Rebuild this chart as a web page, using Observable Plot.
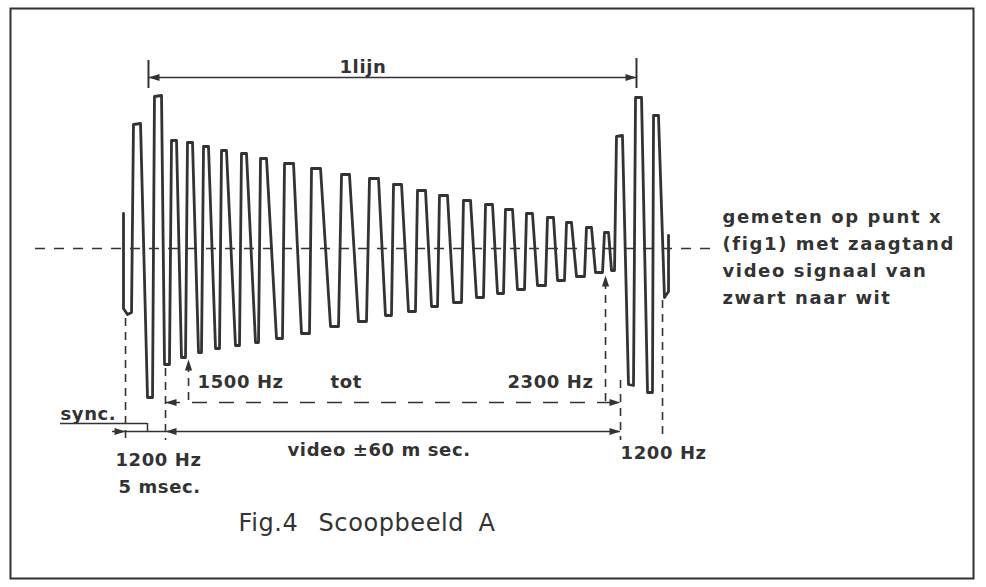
<!DOCTYPE html>
<html><head><meta charset="utf-8">
<script src="https://cdn.jsdelivr.net/npm/d3@7"></script>
<script src="https://cdn.jsdelivr.net/npm/@observablehq/plot@0.6"></script>
<style>
html,body{margin:0;padding:0;background:#fff;}
g[aria-description="label"] text{letter-spacing:0.6px}
g[aria-description="note"] text{letter-spacing:1.6px}
g[aria-description="caption"] text{letter-spacing:0.6px}
</style>
</head><body><div id="chart"></div>
<script>
// Time axis in ms (start of video = 0), amplitude in arbitrary units (0 = centre line)
const syncLeft = [[-5.6,0.35],[-5.6,-0.60],[-5.07,-0.66],[-4.53,-0.64],[-4.27,1.24],[-3.33,1.25],
  [-2.4,-1.49],[-1.73,-1.49],[-1.47,1.52],[-0.53,1.53],[-0.13,-1.16],[0.53,-1.16]];
// each video cycle: [start, end, amplitude] of the flat top / flat bottom
const videoTops = [[0.8,1.47,1.08],[2.93,3.6,1.06],[5.07,5.73,1.02],[7.47,8.13,0.98],[10.13,10.8,0.95],
  [12.67,13.47,0.90],[15.87,17.07,0.85],[19.47,20.67,0.80],[23.47,24.53,0.74],[27.2,28.4,0.70],
  [30.4,31.47,0.64],[33.6,34.67,0.58],[36.53,37.6,0.53],[39.73,40.67,0.48],[42.67,43.6,0.44],
  [45.33,46.27,0.39],[48.13,48.93,0.35],[50.93,51.73,0.31],[53.47,54.13,0.26],[56.13,56.8,0.21],[58.53,59.07,0.16]];
const videoBottoms = [[2.13,2.67,-1.09],[4.4,4.8,-1.04],[6.67,7.2,-1.00],[9.33,9.87,-0.97],[12.0,12.4,-0.94],
  [14.8,15.6,-0.90],[18.13,19.2,-0.85],[22.0,23.07,-0.78],[25.73,26.8,-0.73],[29.33,30.13,-0.67],
  [32.4,33.33,-0.63],[35.47,36.27,-0.58],[38.4,39.47,-0.54],[41.47,42.4,-0.49],[44.27,45.07,-0.45],
  [46.93,47.87,-0.41],[49.6,50.67,-0.37],[52.27,53.2,-0.32],[54.8,55.87,-0.28],[57.33,58.27,-0.24],[59.47,59.87,-0.22]];
const syncRight = [[60.13,1.12],[60.93,1.13],[61.73,-1.36],[62.4,-1.37],[62.67,1.51],[63.47,1.51],
  [64.27,-1.44],[64.93,-1.44],[65.07,1.33],[65.73,1.33],[66.53,-0.49],[67.07,-0.43],[67.07,0.13]];

const centreLine = [{t1:-17.33, t2:73.33, a:0}];
const dashedVerticals = [
  {t:-5.33, a1:-0.70, a2:-1.90},
  {t:0,     a1:-1.20, a2:-1.92},
  {t:3.07,  a1:-1.16, a2:-1.54},
  {t:58.67, a1:-0.33, a2:-1.54},
  {t:60.67, a1:-1.32, a2:-1.92},
  {t:66.27, a1:-0.52, a2:-1.92}
];
const spanLine = [{t1:-2.27, t2:62.8, a:1.71}];           // 1 lijn
const spanTicks = [{t:-2.27, a1:1.88, a2:1.60},{t:62.8, a1:1.90, a2:1.60}];
const freqSweep = [{t1:0, t2:60.67, a:-1.54}];           // 1500 Hz tot 2300 Hz
const timeLine = [{t1:-7.07, t2:60.67, a:-1.83}];        // sync + video
const syncLeader = [{t1:-14, t2:-2.4, a:-1.75}];
const syncLeaderDrop = [{t:-2.4, a1:-1.75, a2:-1.83}];
const arrowsRight = [{t:62.8,a:1.71},{t:60.67,a:-1.54},{t:-5.33,a:-1.83},{t:60.67,a:-1.83}];
const arrowsLeft = [{t:-2.27,a:1.71},{t:0,a:-1.54},{t:0,a:-1.83}];
const arrowsUp = [{t:3.07,a:-1.11},{t:58.67,a:-0.27}];

const labels = [
  {text:"1lijn", t:23.2, a:1.76},
  {text:"1500 Hz", t:4.27, a:-1.39},
  {text:"tot", t:22, a:-1.39},
  {text:"2300 Hz", t:45.6, a:-1.39},
  {text:"sync.", t:-14, a:-1.71},
  {text:"1200 Hz", t:-6.67, a:-2.17},
  {text:"5 msec.", t:-6.27, a:-2.44},
  {text:"video ±60 m sec.", t:16.27, a:-2.07},
  {text:"1200 Hz", t:60.67, a:-2.10}
];
const noteLines = [
  {text:"gemeten op punt x", t:74.27, a:0.26},
  {text:"(fig1) met zaagtand", t:74.27, a:-0.01},
  {text:"video signaal van", t:74.27, a:-0.28},
  {text:"zwart naar wit", t:74.27, a:-0.55}
];
const caption = [
  {text:"Fig.4", t:9.73, a:-2.82},
  {text:"Scoopbeeld", t:20.4, a:-2.82},
  {text:"A", t:41.73, a:-2.82}
];

const wave = [
  ...syncLeft,
  ...videoTops.flatMap((top, i) => {
    const b = videoBottoms[i];
    return [[top[0], top[2]], [top[1], top[2]], [b[0], b[2]], [b[1], b[2]]];
  }),
  ...syncRight
].map(([t, a]) => ({t, a}));

const ink = "#333";
const headRight = {draw(c){ c.moveTo(0,0); c.lineTo(-11,-3.6); c.lineTo(-11,3.6); c.closePath(); }};
const headLeft  = {draw(c){ c.moveTo(0,0); c.lineTo(11,-3.6); c.lineTo(11,3.6); c.closePath(); }};
const headUp    = {draw(c){ c.moveTo(0,0); c.lineTo(-3.6,11); c.lineTo(3.6,11); c.closePath(); }};

const plot = Plot.plot({
  width: 986, height: 587, margin: 0,
  x: {domain: [-22, 109.4667], axis: null},
  y: {domain: [-3.39, 2.48], axis: null},
  style: {background: "#fff", fontFamily: "'DejaVu Sans', sans-serif"},
  marks: [
    Plot.frame({stroke: ink, strokeWidth: 2, insetLeft: 10, insetTop: 8, insetRight: 13, insetBottom: 9}),
    Plot.ruleY(centreLine, {y: "a", x1: "t1", x2: "t2", stroke: ink, strokeWidth: 1.5, strokeDasharray: "10,9"}),
    Plot.ruleX(dashedVerticals, {x: "t", y1: "a1", y2: "a2", stroke: ink, strokeWidth: 1.6, strokeDasharray: "8,6"}),
    Plot.ruleY(freqSweep, {y: "a", x1: "t1", x2: "t2", stroke: ink, strokeWidth: 1.7, strokeDasharray: "15,12"}),
    Plot.ruleY(spanLine, {y: "a", x1: "t1", x2: "t2", stroke: ink, strokeWidth: 1.5}),
    Plot.ruleX(spanTicks, {x: "t", y1: "a1", y2: "a2", stroke: ink, strokeWidth: 2}),
    Plot.ruleY(timeLine, {y: "a", x1: "t1", x2: "t2", stroke: ink, strokeWidth: 1.5}),
    Plot.ruleY(syncLeader, {y: "a", x1: "t1", x2: "t2", stroke: ink, strokeWidth: 1.5}),
    Plot.ruleX(syncLeaderDrop, {x: "t", y1: "a1", y2: "a2", stroke: ink, strokeWidth: 1.5}),
    Plot.line(wave, {x: "t", y: "a", stroke: ink, strokeWidth: 2.8, strokeLinejoin: "round", strokeLinecap: "round"}),
    Plot.dot(arrowsRight, {x: "t", y: "a", symbol: headRight, r: 5, fill: ink, stroke: "none"}),
    Plot.dot(arrowsLeft, {x: "t", y: "a", symbol: headLeft, r: 5, fill: ink, stroke: "none"}),
    Plot.dot(arrowsUp, {x: "t", y: "a", symbol: headUp, r: 5, fill: ink, stroke: "none"}),
    Plot.text(labels, {x: "t", y: "a", text: "text", textAnchor: "start", lineAnchor: "bottom",
      fontSize: 18, fontWeight: "bold", fill: ink, ariaDescription: "label"}),
    Plot.text(noteLines, {x: "t", y: "a", text: "text", textAnchor: "start", lineAnchor: "bottom",
      fontSize: 18, fontWeight: "bold", fill: ink, ariaDescription: "note"}),
    Plot.text(caption, {x: "t", y: "a", text: "text", textAnchor: "start", lineAnchor: "bottom",
      fontSize: 24, fill: ink, ariaDescription: "caption"})
  ]
});
document.getElementById("chart").appendChild(plot);
</script>
</body></html>
